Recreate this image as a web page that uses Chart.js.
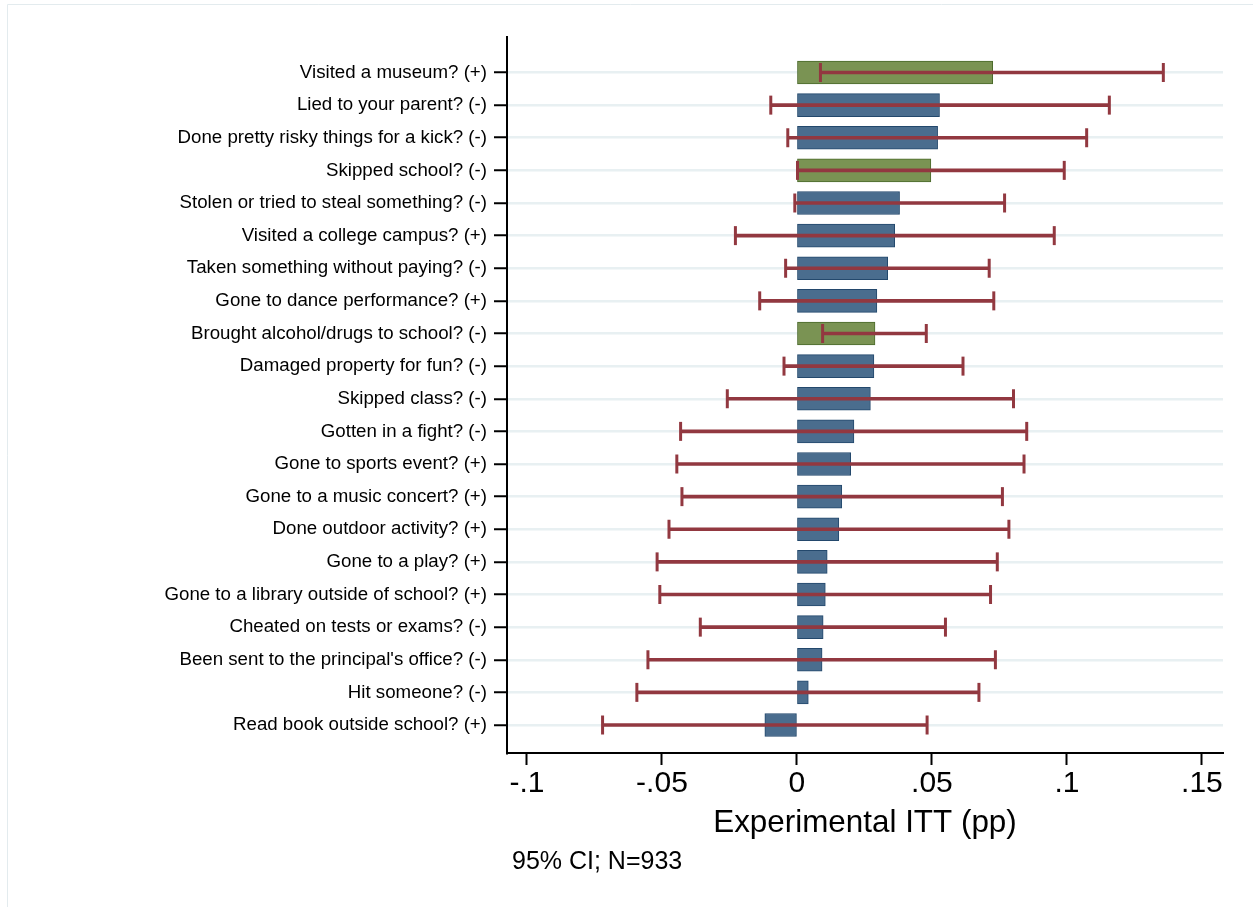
<!DOCTYPE html>
<html>
<head>
<meta charset="utf-8">
<script src="https://cdn.jsdelivr.net/npm/chart.js@4/dist/chart.umd.min.js"></script>
<style>
  html, body { margin: 0; padding: 0; background: #ffffff; }
  #wrap { position: relative; width: 1253px; height: 907px; }
</style>
</head>
<body>
<div id="wrap"><canvas id="itt" width="1253" height="907"></canvas></div>
<script>
// Survey items, top to bottom
const items = [
  "Visited a museum? (+)",
  "Lied to your parent? (-)",
  "Done pretty risky things for a kick? (-)",
  "Skipped school? (-)",
  "Stolen or tried to steal something? (-)",
  "Visited a college campus? (+)",
  "Taken something without paying? (-)",
  "Gone to dance performance? (+)",
  "Brought alcohol/drugs to school? (-)",
  "Damaged property for fun? (-)",
  "Skipped class? (-)",
  "Gotten in a fight? (-)",
  "Gone to sports event? (+)",
  "Gone to a music concert? (+)",
  "Done outdoor activity? (+)",
  "Gone to a play? (+)",
  "Gone to a library outside of school? (+)",
  "Cheated on tests or exams? (-)",
  "Been sent to the principal's office? (-)",
  "Hit someone? (-)",
  "Read book outside school? (+)"
];

// Point estimates (pp) and 95% confidence bounds
const effects = [0.0725, 0.0528, 0.0521, 0.0496, 0.0380, 0.0362, 0.0336, 0.0296, 0.0289, 0.0285,
                 0.0272, 0.0211, 0.0199, 0.0166, 0.0155, 0.0112, 0.0105, 0.0097, 0.0093, 0.0042, -0.0119];
const ciLow   = [0.0087, -0.0097, -0.0034, 0.0002, -0.0008, -0.0228, -0.0042, -0.0138, 0.0095, -0.0048,
                 -0.0258, -0.0431, -0.0445, -0.0426, -0.0474, -0.0518, -0.0508, -0.0358, -0.0552, -0.0593, -0.0720];
const ciHigh  = [0.1357, 0.1157, 0.1073, 0.0990, 0.0769, 0.0953, 0.0712, 0.0729, 0.0479, 0.0615,
                 0.0802, 0.0851, 0.0841, 0.0761, 0.0785, 0.0742, 0.0717, 0.0550, 0.0735, 0.0674, 0.0482];

// Axis ticks
const xTickValues = [-0.1, -0.05, 0, 0.05, 0.1, 0.15];
const xTickLabels = ["-.1", "-.05", "0", ".05", ".1", ".15"];

const axisTitle = "Experimental ITT (pp)";
const noteText = "95% CI; N=933";

const FONT = "'Liberation Sans', Arial, Helvetica, sans-serif";
const BLUE_FILL = "#4a6d8e", BLUE_EDGE = "#23486c";
const GREEN_FILL = "#7a9353", GREEN_EDGE = "#4b6a2b";
const RED = "#923840";

const significant = ciLow.map(v => v > 0);

const barData = effects.map((v, i) => ({ y: i, x: [0, v] }));
const ciData = ciLow.map((lo, i) => ({ y: i, x: [lo, ciHigh[i]] }));
const capData = [];
ciLow.forEach((lo, i) => { capData.push({ x: lo, y: i }); capData.push({ x: ciHigh[i], y: i }); });

// Page frame and footnote
const decor = {
  id: 'decor',
  beforeDraw(chart) {
    const ctx = chart.ctx;
    ctx.save();
    ctx.fillStyle = '#ffffff';
    ctx.fillRect(0, 0, chart.width, chart.height);
    ctx.strokeStyle = '#e3ebee';
    ctx.lineWidth = 1;
    ctx.beginPath();
    ctx.moveTo(7.5, chart.height);
    ctx.lineTo(7.5, 4.5);
    ctx.lineTo(chart.width, 4.5);
    ctx.stroke();
    ctx.restore();
  },
  afterDraw(chart) {
    const ctx = chart.ctx;
    ctx.save();
    ctx.fillStyle = '#000000';
    ctx.font = "25px " + FONT;
    ctx.textBaseline = 'alphabetic';
    ctx.textAlign = 'left';
    ctx.fillText(noteText, chart.chartArea.left + 5, 869);
    ctx.restore();
  }
};

new Chart(document.getElementById('itt'), {
  type: 'bar',
  data: {
    datasets: [
      {
        type: 'bar', indexAxis: 'y', grouped: false, order: 3,
        data: barData,
        backgroundColor: significant.map(s => s ? GREEN_FILL : BLUE_FILL),
        borderColor: significant.map(s => s ? GREEN_EDGE : BLUE_EDGE),
        borderWidth: 1, borderSkipped: false,
        barThickness: 23
      },
      {
        type: 'bar', indexAxis: 'y', grouped: false, order: 2,
        data: ciData,
        backgroundColor: RED, borderWidth: 0,
        barThickness: 3
      },
      {
        type: 'scatter', order: 1,
        data: capData,
        pointStyle: 'line', rotation: 90, radius: 9.5,
        borderColor: RED, borderWidth: 3, showLine: false
      }
    ]
  },
  options: {
    indexAxis: 'y',
    responsive: false,
    animation: false,
    events: [],
    layout: { padding: { top: 37, right: 30, left: 0, bottom: 0 } },
    plugins: { legend: { display: false }, tooltip: { enabled: false } },
    scales: {
      x: {
        type: 'linear', position: 'bottom', offset: false,
        min: -0.1074, max: 0.1578,
        afterBuildTicks: s => { s.ticks = xTickValues.map(v => ({ value: v })); },
        afterFit: s => { s.height = 154; },
        ticks: {
          autoSkip: false, maxRotation: 0, padding: 1, color: '#000',
          font: { family: FONT, size: 30 },
          callback: (v, i) => xTickLabels[i]
        },
        grid: { offset: false, drawOnChartArea: false, drawTicks: true, tickLength: 12, tickWidth: 2, tickColor: '#000' },
        border: { display: true, color: '#000', width: 2 },
        title: {
          display: true, text: axisTitle, color: '#000',
          font: { family: FONT, size: 31.4 },
          padding: { top: 0, bottom: 65 }
        }
      },
      y: {
        type: 'linear', position: 'left', reverse: true, offset: false,
        min: -1.088, max: 20.858,
        afterBuildTicks: s => { s.ticks = items.map((_, i) => ({ value: i })); },
        afterFit: s => { s.width = 507; },
        ticks: {
          autoSkip: false, padding: 7, color: '#000',
          font: { family: FONT, size: 18.7 },
          callback: v => items[v]
        },
        grid: {
          offset: false,
          drawOnChartArea: true, color: '#e8f0f2', lineWidth: 2.5,
          drawTicks: true, tickLength: 13, tickWidth: 2, tickColor: '#000'
        },
        border: { display: true, color: '#000', width: 2 }
      }
    }
  },
  plugins: [decor]
});
</script>
</body>
</html>
